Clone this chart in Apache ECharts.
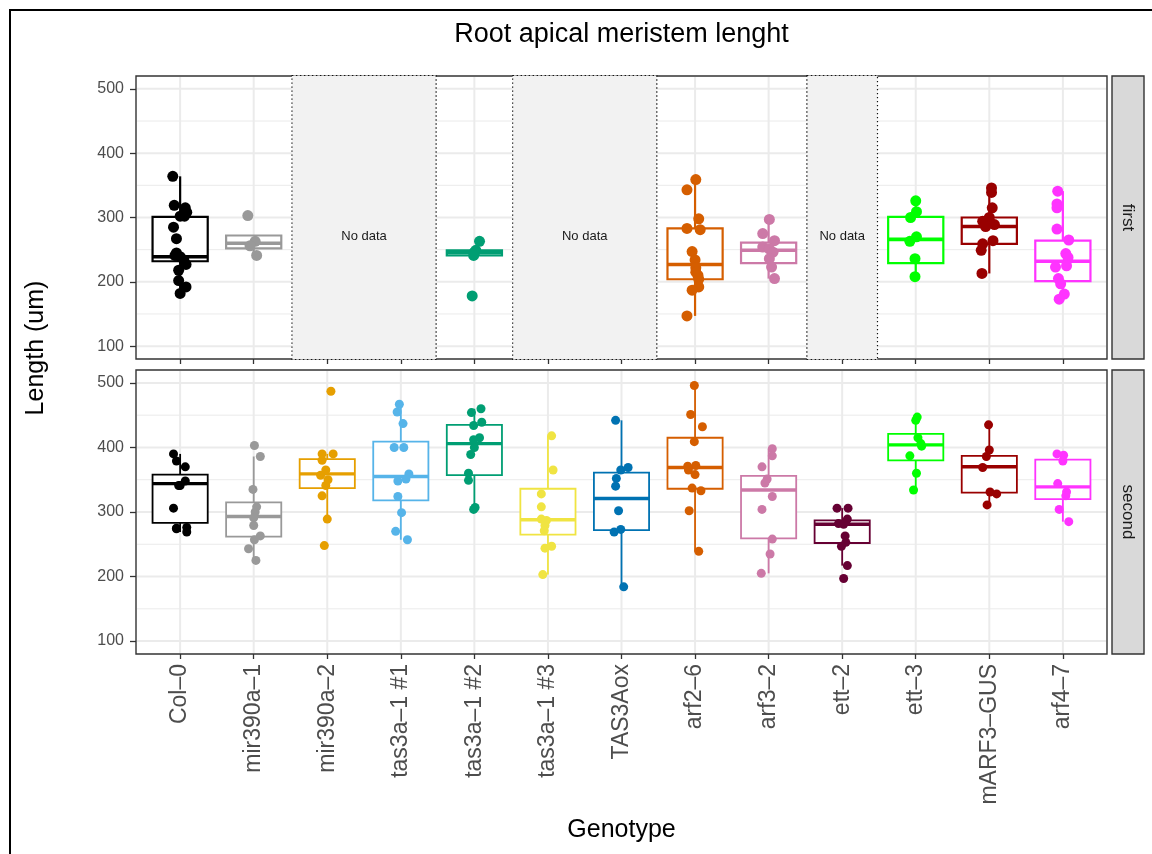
<!DOCTYPE html>
<html><head><meta charset="utf-8">
<script src="https://cdn.jsdelivr.net/npm/echarts@6/dist/echarts.min.js"></script>
<style>html,body{margin:0;padding:0;background:#fff}#c{width:1152px;height:854px}</style>
</head><body><div id="c"></div>
<script>
// ---------------- DATA ----------------
const genotypes = ['Col–0','mir390a–1','mir390a–2','tas3a–1 #1','tas3a–1 #2','tas3a–1 #3','TAS3Aox','arf2–6','arf3–2','ett–2','ett–3','mARF3–GUS','arf4–7'];
const genotypeColors = ['#000000','#999999','#E69F00','#56B4E9','#009E73','#F0E442','#0072B2','#D55E00','#CC79A7','#660033','#00FF00','#990000','#FF33FF'];
const panelNames = ['first','second'];
const yTicks = [100,200,300,400,500];
const yMinorTicks = [150,250,350,450];
const noDataText = 'No data';

// box stats: [lower whisker, Q1, median, Q3, upper whisker]; null = no data
const firstBoxes = [
  [182,232,239,301,364],[241,252,260,272,272],null,null,[241,241,246,249,249],null,null,
  [147,204,227,283,359],[205,229,249,261,297],null,[208,229,266,301,326],[213,259,286,300,346],[173,201,232,264,341]
];
const firstValues = [
  [364,319,315,308,302,302,285,267,245,241,239,234,227,218,202,192,182],
  [303,263,256,241],
  [],[],
  [263,249,246,241,178],
  [],[],
  [359,343,298,283,281,247,234,222,215,210,204,192,187,147],
  [297,275,264,254,251,246,236,223,205],
  [],
  [326,309,300,270,263,236,208],
  [346,339,315,300,294,289,286,264,259,249,213],
  [341,321,315,282,265,244,238,225,223,205,197,181,173]
];
const firstJitter = [
  [-0.10,-0.08,0.07,0.09,0,0.06,-0.09,-0.05,-0.05,-0.07,0,0.05,0.08,-0.02,-0.02,0.08,0],
  [-0.08,0.02,-0.05,0.04],
  [],[],
  [0.07,0.02,0,-0.01,-0.03],
  [],[],
  [0.01,-0.11,0.05,-0.11,0.07,-0.04,0,0.01,0.01,0.04,0.05,0.05,-0.04,-0.11],
  [0.01,-0.08,0.08,-0.08,0.01,0.06,0.01,0.04,0.08],
  [],
  [0,0.01,-0.07,0.01,-0.08,-0.01,-0.01],
  [0.03,0.03,0.04,0,-0.09,0.07,-0.05,0.05,-0.09,-0.11,-0.10],
  [-0.07,-0.08,-0.08,-0.08,0.08,0.04,0.07,0.05,-0.10,-0.06,-0.03,0.02,-0.05]
];
// genotype positions (1-based) without data in the first panel: [from, to]
const firstNoData = [[3,4],[6,7],[10,10]];

const secondBoxes = [
  [269,283,344,358,390],[225,262,293,315,386],[289,337,359,382,390],[257,318,355,409,467],
  [304,357,406,435,460],[203,265,288,336,418],[184,272,321,361,442],[239,336,369,415,496],
  [205,259,334,356,398],[217,252,281,287,306],[334,380,404,421,447],[311,330,370,387,435],[285,320,339,381,390]
];
const secondValues = [
  [390,379,370,348,341,341,306,276,275,274,269],
  [403,386,335,308,300,291,279,263,257,243,225],
  [487,390,390,380,365,357,350,341,325,289,248],
  [467,455,437,400,400,359,351,348,324,299,270,257],
  [460,454,439,434,415,412,400,389,360,349,307,304],
  [418,365,328,308,289,287,279,271,247,244,203],
  [442,369,365,352,340,302,273,269,184],
  [496,451,432,409,372,371,365,358,337,333,302,239],
  [398,387,370,351,345,324,304,258,235,205],
  [306,306,289,282,281,263,253,247,217,197],
  [447,442,415,406,402,387,360,334],
  [435,396,386,369,331,328,311],
  [390,388,379,344,331,325,304,285]
];
const secondJitter = [
  [-0.09,-0.05,0.07,0.07,0,-0.02,-0.09,0.09,-0.05,-0.05,0.09],
  [0.01,0.09,-0.01,0.04,0.02,0,0,0.09,0.01,-0.07,0.03],
  [0.05,-0.07,0.08,-0.07,-0.02,-0.09,0.01,-0.02,-0.07,0,-0.04],
  [-0.02,-0.05,0.03,-0.09,0.04,0.11,0.07,-0.04,-0.04,0.01,-0.07,0.09],
  [0.09,-0.04,0.10,-0.01,0.07,-0.01,0,-0.05,-0.08,-0.08,0.01,-0.01],
  [0.05,0.07,-0.09,-0.09,-0.09,-0.02,-0.04,-0.05,0.05,-0.04,-0.07],
  [-0.08,0.09,-0.01,-0.07,-0.08,-0.04,-0.01,-0.10,0.03],
  [-0.01,-0.06,0.10,-0.01,0.01,-0.10,-0.09,0,-0.04,0.08,-0.08,0.05],
  [0.05,0.05,-0.09,-0.02,-0.05,0.05,-0.09,0.05,0.02,-0.10],
  [-0.07,0.08,0.07,-0.05,0.02,0.04,0.05,-0.01,0.07,0.02],
  [0.02,0,0.03,0.07,0.08,-0.08,0.01,-0.03],
  [-0.01,0,-0.04,-0.09,0.01,0.10,-0.03],
  [-0.08,0.01,0,-0.07,0.05,0.04,-0.05,0.08]
];

// ---------------- LAYOUT / STYLE ----------------
const FONT = '"Liberation Sans", Helvetica, Arial, sans-serif';
const GL = 136, GW = 971;
const panels = [{top:76, height:283}, {top:370, height:284}];
const X_MIN = 0.4, X_MAX = genotypes.length + 0.6;
const Y_MIN = 80, Y_MAX = 520;
const positions = genotypes.map((g,i)=>i+1);
const boxWidth = 0.75;
const noDataHalf = 0.48;
const noDataLabelValue = 270;
const panelStyle = [
  {pointSize:11, boxLine:2.2, medianLine:3.6},
  {pointSize:9, boxLine:1.8, medianLine:3.4}
];
const boxesByPanel = [firstBoxes, secondBoxes];
const valuesByPanel = [firstValues, secondValues];
const jitterByPanel = [firstJitter, secondJitter];
const noDataByPanel = [firstNoData, []];

const chart = echarts.init(document.getElementById('c'), null, {renderer:'canvas'});

const grids = panels.map(p => ({left:GL, top:p.top, width:GW, height:p.height, show:true,
  backgroundColor:'#fff', borderColor:'#333333', borderWidth:1.4, containLabel:false}));

const xAxes = panels.map((p,i) => ({
  gridIndex:i, type:'value', min:X_MIN, max:X_MAX,
  axisLine:{show:false}, splitLine:{show:false},
  axisTick:{show:true, length:5, customValues:positions, lineStyle:{color:'#333333', width:1.3}},
  axisLabel:{show:i===1, customValues:positions, rotate:90, fontSize:23, color:'#4d4d4d', margin:10,
    fontFamily:FONT, formatter:v => genotypes[Math.round(v)-1] || ''}
}));
const yAxes = panels.map((p,i) => ({
  gridIndex:i, type:'value', min:Y_MIN, max:Y_MAX,
  axisLine:{show:false}, splitLine:{show:false},
  axisTick:{show:true, length:6, customValues:yTicks, lineStyle:{color:'#333333', width:1.3}},
  axisLabel:{customValues:yTicks, fontSize:16, color:'#4d4d4d', margin:12, fontFamily:FONT}
}));

const series = [];
panels.forEach((p, gi) => {
  // grid lines
  const gdata = [];
  yTicks.forEach(v => gdata.push([0, v, 1]));
  yMinorTicks.forEach(v => gdata.push([0, v, 0]));
  positions.forEach(x => gdata.push([1, x, 1]));
  series.push({
    type:'custom', xAxisIndex:gi, yAxisIndex:gi, z:1, silent:true, animation:false,
    encode:{x:-1, y:-1}, data:gdata,
    renderItem(params, api) {
      const cs = params.coordSys;
      const kind = api.value(0), v = api.value(1), major = api.value(2);
      if (kind === 0) {
        const y = api.coord([X_MIN, v])[1];
        return {type:'line', shape:{x1:cs.x+1, y1:y, x2:cs.x+cs.width-1, y2:y},
          style:{stroke:'#ebebeb', lineWidth: major ? 2 : 1}};
      }
      const x = api.coord([v, Y_MIN])[0];
      return {type:'line', shape:{x1:x, y1:cs.y+1, x2:x, y2:cs.y+cs.height-1},
        style:{stroke:'#ebebeb', lineWidth:2}};
    }
  });
  // no data bands
  if (noDataByPanel[gi].length) {
    series.push({
      type:'custom', xAxisIndex:gi, yAxisIndex:gi, z:2, silent:true, animation:false,
      encode:{x:-1, y:-1}, data:noDataByPanel[gi],
      renderItem(params, api) {
        const cs = params.coordSys;
        const a = api.value(0), b = api.value(1);
        const x0 = api.coord([a - noDataHalf, Y_MIN])[0];
        const x1 = api.coord([b + noDataHalf, Y_MIN])[0];
        const ty = api.coord([(a+b)/2, noDataLabelValue]);
        return {type:'group', children:[
          {type:'rect', shape:{x:x0, y:cs.y-0.5, width:x1-x0, height:cs.height+1},
            style:{fill:'#f2f2f2', stroke:'#111', lineWidth:1.2, lineDash:[1.4,2.6]}},
          {type:'text', x:ty[0], y:ty[1], style:{text:noDataText, fill:'#1a1a1a', fontSize:13,
            fontFamily:FONT, align:'center', verticalAlign:'middle'}}
        ]};
      }
    });
  }
  // boxes
  const bdata = [];
  boxesByPanel[gi].forEach((b, i) => { if (b) bdata.push([i+1].concat(b).concat([i])); });
  const st = panelStyle[gi];
  series.push({
    type:'custom', xAxisIndex:gi, yAxisIndex:gi, z:3, silent:true, animation:false,
    encode:{x:0, y:[1,2,3,4,5]}, data:bdata,
    renderItem(params, api) {
      const x = api.value(0);
      const col = genotypeColors[api.value(6)];
      const lo = api.coord([x, api.value(1)]), q1 = api.coord([x, api.value(2)]),
            md = api.coord([x, api.value(3)]), q3 = api.coord([x, api.value(4)]),
            hi = api.coord([x, api.value(5)]);
      const hw = api.size([boxWidth, 0])[0] / 2;
      const ls = {stroke:col, lineWidth:st.boxLine};
      return {type:'group', children:[
        {type:'line', shape:{x1:lo[0], y1:lo[1], x2:q1[0], y2:q1[1]}, style:ls},
        {type:'line', shape:{x1:q3[0], y1:q3[1], x2:hi[0], y2:hi[1]}, style:ls},
        {type:'rect', shape:{x:q1[0]-hw, y:q3[1], width:2*hw, height:q1[1]-q3[1]},
          style:{fill:'#ffffff', stroke:col, lineWidth:st.boxLine}},
        {type:'line', shape:{x1:md[0]-hw, y1:md[1], x2:md[0]+hw, y2:md[1]},
          style:{stroke:col, lineWidth:st.medianLine}}
      ]};
    }
  });
  // jittered points
  const pdata = [];
  valuesByPanel[gi].forEach((vals, i) => {
    vals.forEach((v, k) => pdata.push({value:[i+1+jitterByPanel[gi][i][k], v],
      itemStyle:{color:genotypeColors[i]}}));
  });
  series.push({type:'scatter', xAxisIndex:gi, yAxisIndex:gi, z:4, silent:true, animation:false,
    symbol:'circle', symbolSize:st.pointSize, data:pdata, itemStyle:{opacity:1}});
});

// strips + texts
const graphics = [
  {type:'rect', shape:{x:10, y:10, width:1300, height:1000}, style:{fill:'none', stroke:'#000', lineWidth:2}, z:100},
  {type:'text', x:GL+GW/2, y:35, style:{text:'Root apical meristem lenght', fontSize:27, fill:'#000',
    fontFamily:FONT, align:'center', verticalAlign:'middle'}, z:100},
  {type:'text', x:GL+GW/2, y:830, style:{text:'Genotype', fontSize:25, fill:'#000',
    fontFamily:FONT, align:'center', verticalAlign:'middle'}, z:100},
  {type:'text', x:36, y:348, rotation:Math.PI/2, style:{text:'Length (um)', fontSize:25, fill:'#000',
    fontFamily:FONT, align:'center', verticalAlign:'middle'}, z:100}
];
panels.forEach((p, i) => {
  graphics.push({type:'rect', shape:{x:GL+GW+5, y:p.top, width:32, height:p.height},
    style:{fill:'#d9d9d9', stroke:'#333333', lineWidth:1.4}, z:100});
  graphics.push({type:'text', x:GL+GW+5+16, y:p.top+p.height/2, rotation:-Math.PI/2,
    style:{text:panelNames[i], fontSize:17, fill:'#1a1a1a', fontFamily:FONT, align:'center', verticalAlign:'middle'}, z:101});
});

chart.setOption({
  animation:false,
  backgroundColor:'#ffffff',
  grid:grids, xAxis:xAxes, yAxis:yAxes, series:series, graphic:graphics
});
</script>
</body></html>
